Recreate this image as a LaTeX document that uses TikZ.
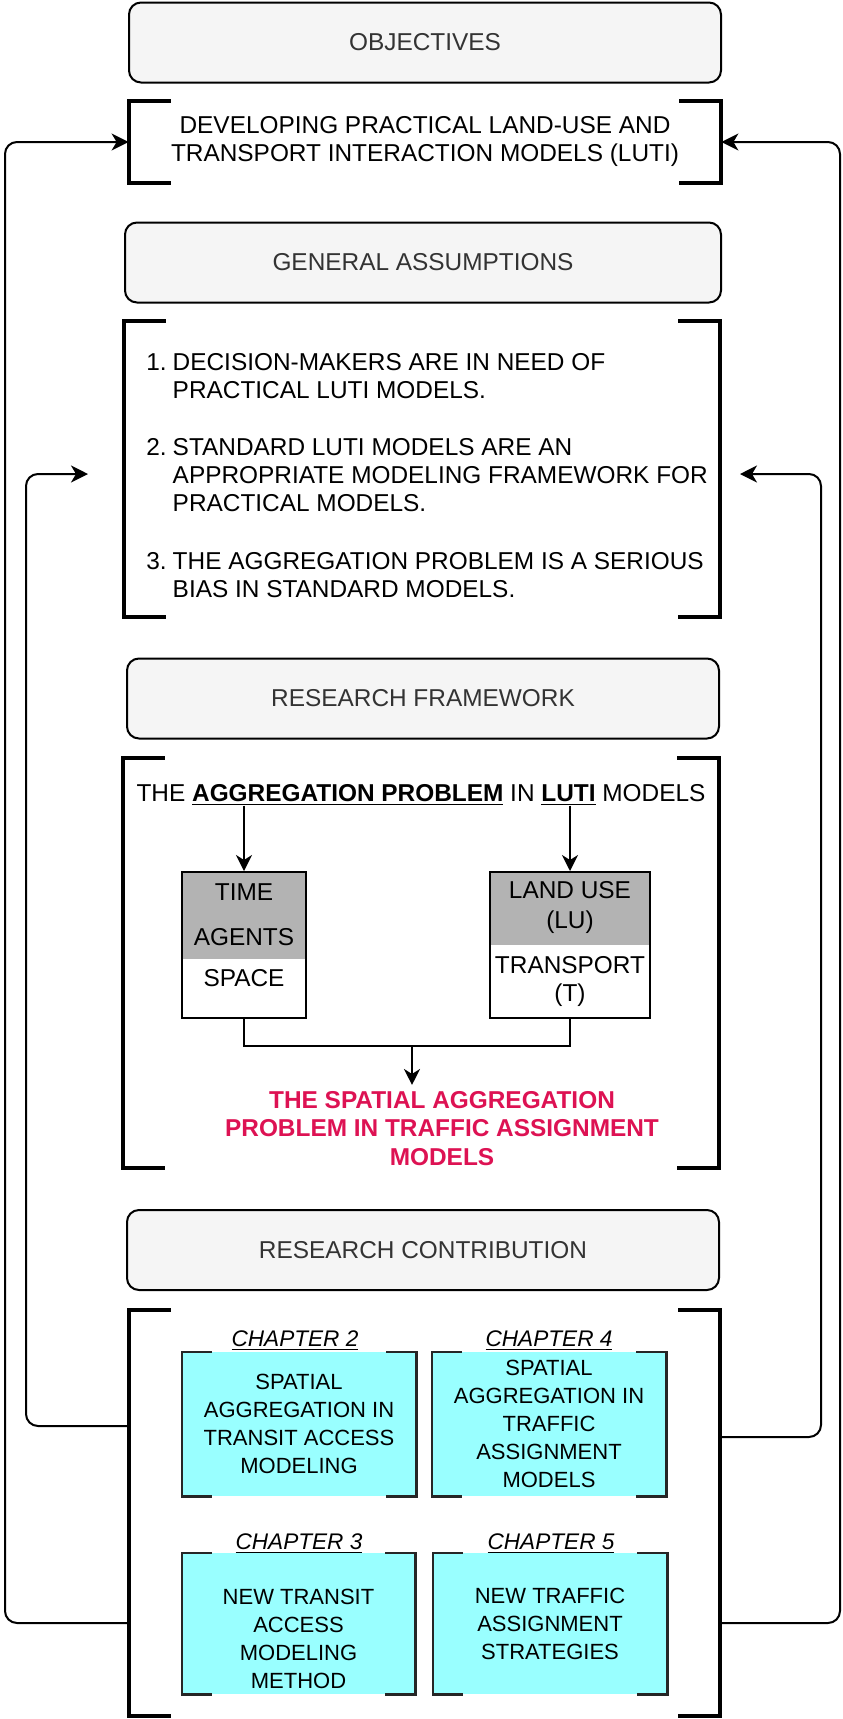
\documentclass[tikz,border=0pt]{standalone}
\usepackage{fontspec}
\setmainfont{Liberation Sans}
\usepackage{xcolor}
\usetikzlibrary{arrows.meta,calc}

\definecolor{headfill}{HTML}{F5F5F5}
\definecolor{headtext}{HTML}{333333}
\definecolor{splitgray}{HTML}{B3B3B3}
\definecolor{chapcyan}{HTML}{99FFFF}
\definecolor{chapedge}{HTML}{262626}
\definecolor{spatialred}{HTML}{DD1253}

\tikzset{
  headbox/.style={draw, line width=1pt, rounded corners=6pt, fill=headfill,
    text=headtext, minimum width=296pt, minimum height=40pt, inner sep=0pt},
  bracketnode/.style={align=center, inner sep=0pt},
  bracketline/.style={line width=2pt},
  splitbox/.style={draw, line width=1pt, inner sep=0pt,
    path picture={\fill[splitgray] (path picture bounding box.north west)
      rectangle ([yshift=-#1]path picture bounding box.north east);}},
  plainlink/.style={line width=0.9pt},
  arrowlink/.style={line width=0.9pt, -{Stealth[length=8pt,width=8pt,inset=2.5pt]}},
  loop/.style={line width=1pt, rounded corners=6pt, -{Stealth[length=8.5pt,width=8.5pt,inset=2.5pt]}},
  chapbox/.style={fill=chapcyan, minimum width=117pt, minimum height=72pt,
    align=center, inner sep=0pt, font=\fontsize{11}{14}\selectfont},
  chaptext/.style={align=center, inner sep=0pt, font=\fontsize{11}{14}\selectfont},
  chapline/.style={line width=1.1pt, draw=chapedge},
  chaplabel/.style={inner sep=0pt, font=\fontsize{11.3}{14}\selectfont\itshape}
}

\begin{document}
\begin{tikzpicture}[x=0.5pt, y=-0.5pt, font=\fontsize{12.2}{14}\selectfont]
\useasboundingbox (0,0) rectangle (842,1719);

% objectives
\node[headbox] (objhead) at (425,42.5) {OBJECTIVES};
\node[bracketnode, minimum width=296pt, minimum height=41pt] (dev) at (425,142)
  {DEVELOPING PRACTICAL LAND-USE AND\\TRANSPORT INTERACTION MODELS (LUTI)};

% assumptions
\node[headbox, minimum width=298pt] (assumehead) at (423,262.5) {GENERAL ASSUMPTIONS};
\node[bracketnode, minimum width=298pt, minimum height=148pt] (assume) at (422,469) {};
\node[anchor=west, inner sep=0pt] (assumelist) at (146,478) {%
  \begin{tabular}{@{}r@{\hspace{3pt}}l@{}}
  1. & DECISION-MAKERS ARE IN NEED OF\\
     & PRACTICAL LUTI MODELS.\\[14.5pt]
  2. & STANDARD LUTI MODELS ARE AN\\
     & APPROPRIATE MODELING FRAMEWORK FOR\\
     & PRACTICAL MODELS.\\[15pt]
  3. & THE AGGREGATION PROBLEM IS A SERIOUS\\
     & BIAS IN STANDARD MODELS.
  \end{tabular}};

% framework
\node[headbox] (framehead) at (423,698.5) {RESEARCH FRAMEWORK};
\node[bracketnode, minimum width=298pt, minimum height=205pt] (frame) at (421,963) {};
\node[anchor=base, inner sep=0pt] (problem) at (421,801)
  {THE \underline{\textbf{AGGREGATION PROBLEM}} IN \underline{\textbf{LUTI}} MODELS};

\node[splitbox=43.5pt, minimum width=62pt, minimum height=73pt] (time) at (244,945) {};
\node[align=center, inner sep=0pt] (timetext) at (244,935) {TIME\\[8.5pt]AGENTS\\[6.5pt]SPACE};
\node[splitbox=36.5pt, minimum width=80pt, minimum height=73pt] (land) at (570,945) {};
\node[align=center, inner sep=0pt] (landtext) at (570,944) {LAND USE\\[1pt](LU)\\[8.5pt]TRANSPORT\\(T)};

\node[align=center, inner sep=3pt, text=spatialred,
  font=\fontsize{12.2}{14.25}\selectfont\bfseries] (spatial) at (442,1128.5)
  {THE SPATIAL AGGREGATION\\PROBLEM IN TRAFFIC ASSIGNMENT\\MODELS};

\draw[arrowlink] (problem.south -| time.north) -- (time.north);
\draw[arrowlink] (problem.south -| land.north) -- (land.north);
\coordinate (merge) at (412,1046);
\draw[plainlink] (time.south) |- (merge) -| (land.south);
\draw[arrowlink] (merge) -- (merge |- spatial.north);

% contribution
\node[headbox] (contribhead) at (423,1250) {RESEARCH CONTRIBUTION};
\node[bracketnode, minimum width=295.5pt, minimum height=203pt] (contrib) at (424.5,1513) {};

\node[chapbox] (ch2) at (299,1424) {SPATIAL\\AGGREGATION IN\\TRANSIT ACCESS\\MODELING};
\node[chapbox] (ch4) at (549,1424) {SPATIAL\\AGGREGATION IN\\TRAFFIC\\ASSIGNMENT\\MODELS};
\node[chapbox, minimum width=116.5pt, minimum height=70.5pt] (ch3) at (298.5,1623.5) {};
\node[chaptext] (ch3text) at (298.5,1639) {NEW TRANSIT\\ACCESS\\MODELING\\METHOD};
\node[chapbox, minimum width=117pt, minimum height=70.5pt] (ch5) at (550,1623.5)
  {NEW TRAFFIC\\ASSIGNMENT\\STRATEGIES};

\node[chaplabel] (ch2label) at (295,1341) {\underline{CHAPTER 2}};
\node[chaplabel] (ch4label) at (549,1341) {\underline{CHAPTER 4}};
\node[chaplabel] (ch3label) at (299,1544) {\underline{CHAPTER 3}};
\node[chaplabel] (ch5label) at (551,1544) {\underline{CHAPTER 5}};

% brackets
\foreach \b in {dev,assume,frame,contrib}{
  \draw[bracketline] ([xshift=21pt]\b.north west) -- (\b.north west)
    -- (\b.south west) -- ([xshift=21pt]\b.south west);
  \draw[bracketline] ([xshift=-21pt]\b.north east) -- (\b.north east)
    -- (\b.south east) -- ([xshift=-21pt]\b.south east);
}
\foreach \c in {ch2,ch3,ch4,ch5}{
  \draw[chapline] ([xshift=15pt]\c.north west) -- (\c.north west)
    -- (\c.south west) -- ([xshift=15pt]\c.south west);
  \draw[chapline] ([xshift=-15pt]\c.north east) -- (\c.north east)
    -- (\c.south east) -- ([xshift=-15pt]\c.south east);
}

% feedback loops
\coordinate (lo) at (5,1623);
\coordinate (li) at (26,1426);
\coordinate (lia) at (88,474);
\coordinate (ro) at (840,1623);
\coordinate (ri) at (821,1437);
\coordinate (ria) at (740,474);
\draw[loop] (contrib.west |- lo) -- (lo) |- (dev.west);
\draw[loop] (contrib.west |- li) -- (li) |- (lia);
\draw[loop] (contrib.east |- ro) -- (ro) |- (dev.east);
\draw[loop] (contrib.east |- ri) -- (ri) |- (ria);
\end{tikzpicture}
\end{document}
